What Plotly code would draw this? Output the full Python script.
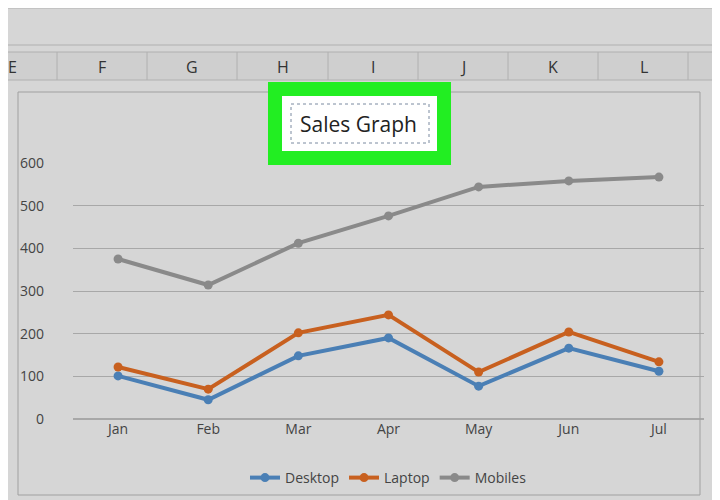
import plotly.graph_objects as go

months = ["Jan", "Feb", "Mar", "Apr", "May", "Jun", "Jul"]
desktop = [101, 45, 148, 190, 77, 166, 112]
laptop = [122, 70, 202, 244, 110, 204, 134]
mobiles = [375, 314, 412, 476, 544, 558, 567]
col_letters = ["E", "F", "G", "H", "I", "J", "K", "L"]
col_centers = [12, 102, 192, 283, 373, 463, 553, 644]

W, H = 720, 500
OFF = 8  # page offset seen in the rendered output
L, R, T, B = 73 - OFF, 32 - OFF, 163 - OFF, 81 + OFF


def px(x):
    return (x - OFF - L) / (W - L - R)


def py(y):
    return (H - B - (y - OFF)) / (H - T - B)


fig = go.Figure()
for name, vals, color in [("Desktop", desktop, "#4a7fb5"),
                          ("Laptop", laptop, "#c8601f"),
                          ("Mobiles", mobiles, "#8a8a8a")]:
    fig.add_trace(go.Scatter(x=months, y=vals, name=name, mode="lines+markers",
                             line=dict(color=color, width=4),
                             marker=dict(size=9, color=color)))

shapes = []
# spreadsheet header band
shapes.append(dict(type="rect", xref="paper", yref="paper", x0=px(0), x1=px(720),
                   y0=py(80), y1=py(52), fillcolor="#cfcfcf", line_width=0, layer="below"))
for yy in [8, 45, 52, 80]:
    shapes.append(dict(type="line", xref="paper", yref="paper", x0=px(0), x1=px(720),
                       y0=py(yy), y1=py(yy), line=dict(color="#b0b0b0", width=1)))
for xx in [57, 147, 237, 328, 418, 508, 598, 688]:
    shapes.append(dict(type="line", xref="paper", yref="paper", x0=px(xx), x1=px(xx),
                       y0=py(80), y1=py(52), line=dict(color="#b0b0b0", width=1)))
# chart area border
shapes.append(dict(type="rect", xref="paper", yref="paper", x0=px(18), x1=px(700),
                   y0=py(495), y1=py(92), line=dict(color="#a0a0a0", width=1)))
# green title highlight
shapes.append(dict(type="rect", xref="paper", yref="paper", x0=px(268), x1=px(451),
                   y0=py(165), y1=py(82), fillcolor="#22ee22", line_width=0))
shapes.append(dict(type="rect", xref="paper", yref="paper", x0=px(282), x1=px(437),
                   y0=py(151), y1=py(96), fillcolor="white", line_width=0))
shapes.append(dict(type="rect", xref="paper", yref="paper", x0=px(291), x1=px(429),
                   y0=py(143), y1=py(104), line=dict(color="#7a8aa0", width=1, dash="dot")))

annotations = [dict(text=c, x=px(x), y=py(67), xref="paper", yref="paper", showarrow=False,
                    xanchor="center", yanchor="middle", font=dict(size=16, color="#333"))
               for c, x in zip(col_letters, col_centers)]
annotations.append(dict(text="Sales Graph", x=px(358), y=py(124), xref="paper", yref="paper",
                        showarrow=False, xanchor="center", yanchor="middle",
                        font=dict(size=21, color="#222")))

fig.update_layout(
    width=W, height=H, margin=dict(l=L, r=R, t=T, b=B),
    paper_bgcolor="#d6d6d6", plot_bgcolor="#d6d6d6",
    font=dict(family="Open Sans, sans-serif", color="#444", size=14),
    xaxis=dict(range=[-0.5, 6.5], showgrid=False, showline=False, ticks=""),
    yaxis=dict(range=[0, 600], dtick=100, gridcolor="#a8a8a8", zeroline=True,
               zerolinecolor="#a8a8a8", ticks="", ticklabelstandoff=28),
    legend=dict(orientation="h", x=0.5, xanchor="center", y=py(478), yanchor="middle",
                font=dict(size=14)),
    shapes=shapes, annotations=annotations,
)
fig.write_html("out.html")
